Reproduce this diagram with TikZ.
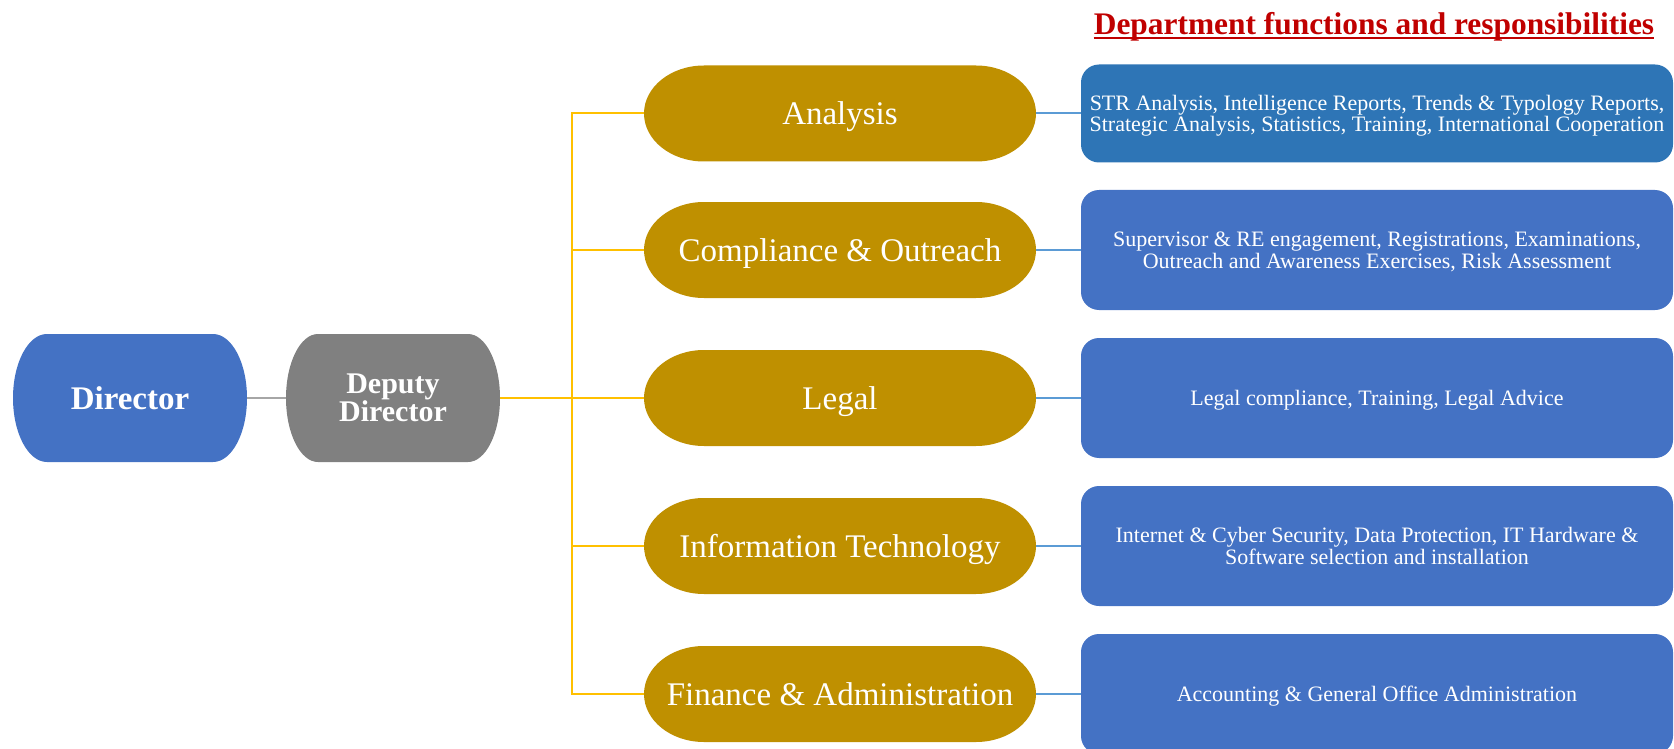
\documentclass[tikz,border=0pt]{standalone}
\usepackage{fontspec}
\setmainfont{Liberation Serif}
\usepackage{tikz}
\usetikzlibrary{trees}

\definecolor{dirblue}{HTML}{4472C4}
\definecolor{deputygray}{HTML}{808080}
\definecolor{unitgold}{HTML}{BF9000}
\definecolor{dutyteal}{HTML}{2E75B6}
\definecolor{dutyblue}{HTML}{4472C4}
\definecolor{trunkyellow}{HTML}{FFC000}
\definecolor{linkblue}{HTML}{5B9BD5}
\definecolor{linkgray}{HTML}{A6A6A6}
\definecolor{titlered}{HTML}{C00000}

% flat top and bottom, half-ellipse ends: {colour}{x radius}{y radius}
\tikzset{capsule/.style n args={3}{fill=white, path picture={
  \fill[#1] ([xshift=#2]path picture bounding box.north west)
    -- ([xshift=-#2]path picture bounding box.north east)
    arc[start angle=90, end angle=-90, x radius=#2, y radius=#3]
    -- ([xshift=#2]path picture bounding box.south west)
    arc[start angle=270, end angle=90, x radius=#2, y radius=#3]
    -- cycle;}}}

\begin{document}
\begin{tikzpicture}[
  x=1pt, y=1pt,
  grow'=right,
  level 1/.style={level distance=263pt,
    edge from parent/.style={draw=linkgray, line width=2pt}},
  level 2/.style={level distance=447pt, sibling distance=148pt,
    edge from parent/.style={draw=trunkyellow, line width=2pt},
    edge from parent path={(\tikzparentnode.east) -- ++(72pt,0) |- (\tikzchildnode.west)}},
  level 3/.style={level distance=537pt,
    edge from parent/.style={draw=linkblue, line width=2pt},
    edge from parent path={(\tikzparentnode.east) -- (\tikzchildnode.west)}},
  directorbox/.style={capsule={dirblue}{34pt}{64pt}, minimum width=234pt, minimum height=128pt, inner sep=0pt, text=white, font=\bfseries\fontsize{33}{34}\selectfont},
  deputybox/.style={capsule={deputygray}{32pt}{64pt}, minimum width=214pt, minimum height=128pt, inner sep=0pt, text=white, align=center, font=\bfseries\fontsize{30}{28}\selectfont},
  unitbox/.style={capsule={unitgold}{60pt}{48pt}, minimum width=392pt, minimum height=96pt, inner sep=0pt, text depth=0pt, text=white, font=\fontsize{33}{34}\selectfont},
  dutybox/.style={rectangle, rounded corners=18pt, fill=dutyblue, minimum width=592pt, minimum height=120pt, inner sep=0pt, text depth=0pt, text=white, align=center, font=\fontsize{22}{21.5}\selectfont},
  headline/.style={inner sep=0pt, anchor=base, text=titlered, font=\bfseries\fontsize{31.4}{33}\selectfont}
]
\useasboundingbox (0,0) rectangle (1674,-749);

% heading of the right column
\node[headline] (heading) at (1374,-35) {Department functions and responsibilities};
\draw[titlered, line width=2pt] ([yshift=-3.5pt]heading.base west) -- ([yshift=-3.5pt]heading.base east);

% Director -> Deputy -> departments -> duties
\node[directorbox] (director) at (130,-398) {Director}
  child {node[deputybox] (deputy) {Deputy\\Director}
    child[yshift=-11.5pt] {node[unitbox] (analysis) {Analysis}
      child {node[dutybox, fill=dutyteal, minimum height=98pt] (analysisduty)
        {STR Analysis, Intelligence Reports, Trends \& Typology Reports,\\
         Strategic Analysis, Statistics, Training, International Cooperation}}
    }
    child {node[unitbox] (compliance) {Compliance \& Outreach}
      child {node[dutybox] (complianceduty)
        {Supervisor \& RE engagement, Registrations, Examinations,\\
         Outreach and Awareness Exercises, Risk Assessment}}
    }
    child {node[unitbox] (legal) {Legal}
      child {node[dutybox] (legalduty) {Legal compliance, Training, Legal Advice}}
    }
    child {node[unitbox] (itech) {Information Technology}
      child {node[dutybox] (itechduty)
        {Internet \& Cyber Security, Data Protection, IT Hardware \&\\
         Software selection and installation}}
    }
    child {node[unitbox] (finance) {Finance \& Administration}
      child {node[dutybox] (financeduty) {Accounting \& General Office Administration}}
    }
  };
\end{tikzpicture}
\end{document}
